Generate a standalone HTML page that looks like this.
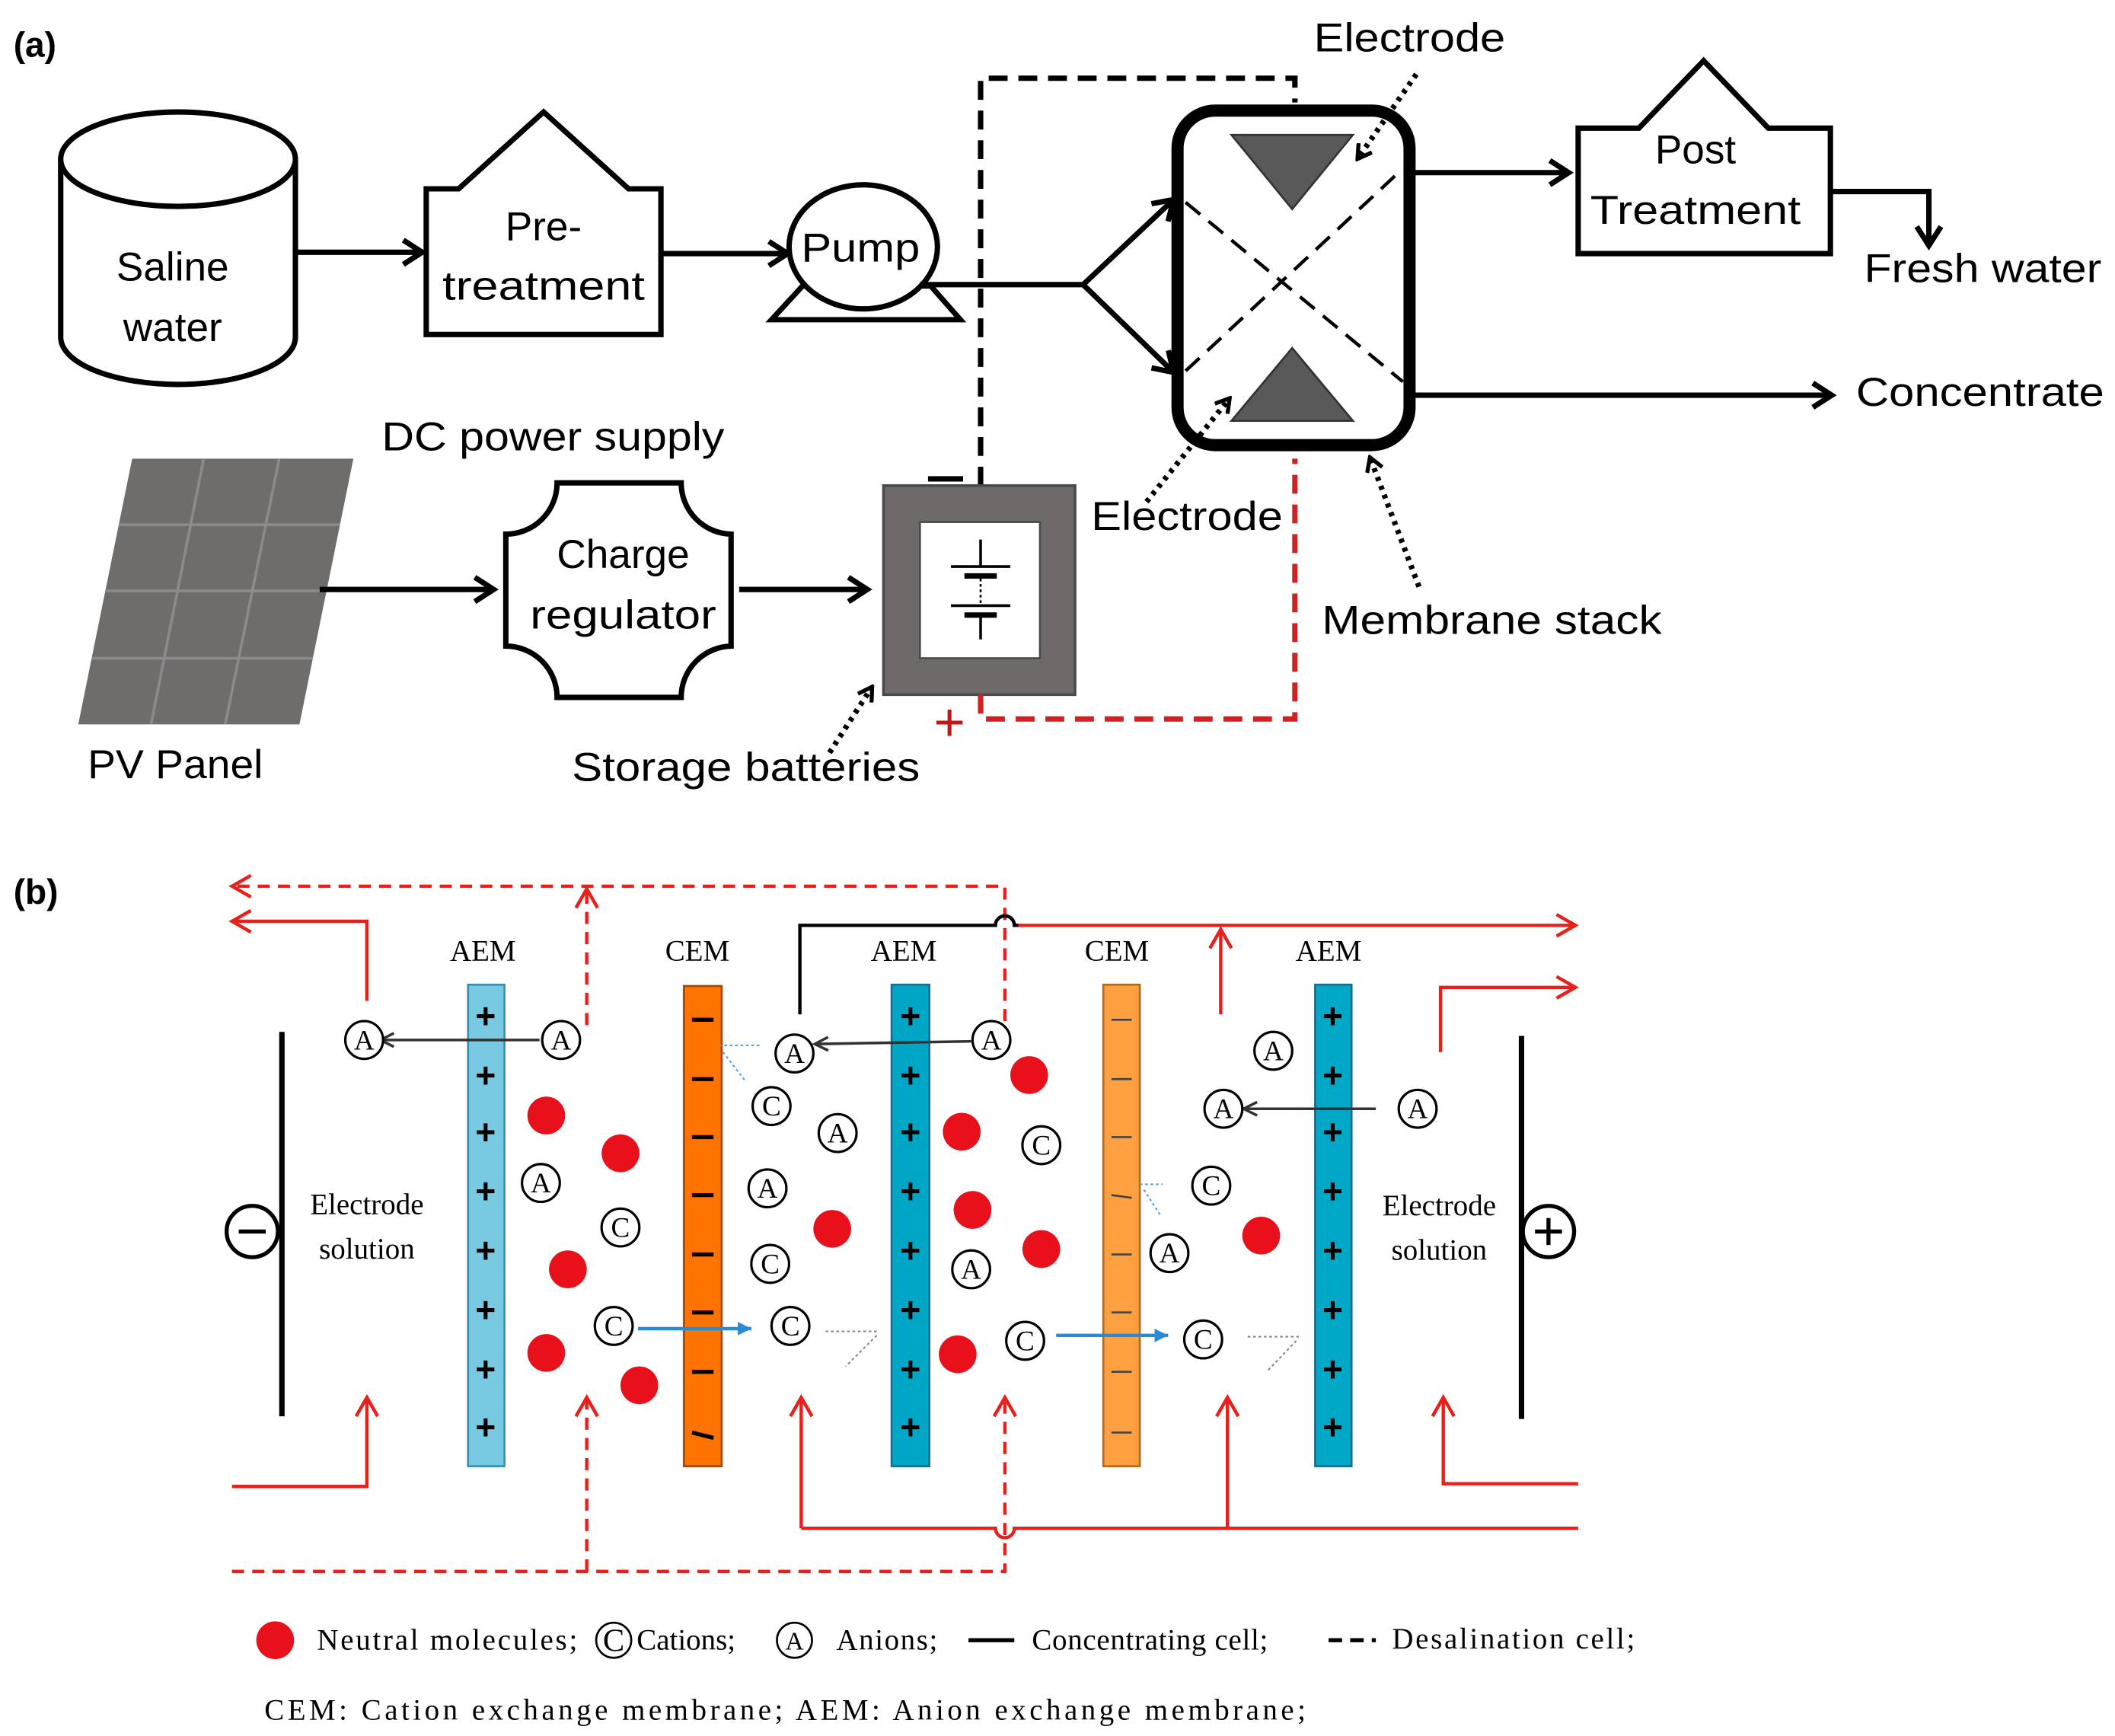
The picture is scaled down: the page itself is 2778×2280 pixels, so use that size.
<!DOCTYPE html>
<html><head><meta charset="utf-8"><style>
html,body{margin:0;padding:0;background:#fff}
svg{display:block}
.t{font-family:"Liberation Sans",sans-serif;font-size:28px;fill:#000}
.r{font-family:"Liberation Serif",serif;fill:#000}
</style></head><body>
<svg width="2778" height="2280" viewBox="0 0 1568 1287" preserveAspectRatio="none" xmlns="http://www.w3.org/2000/svg">
<defs>
<marker id="ak" markerWidth="24" markerHeight="24" refX="20" refY="12" orient="auto" markerUnits="userSpaceOnUse"><path d="M6,3 L20,12 L6,21" fill="none" stroke="#000" stroke-width="4"/></marker>
<marker id="ar" markerWidth="22" markerHeight="22" refX="19" refY="11" orient="auto" markerUnits="userSpaceOnUse"><path d="M5,3 L19,11 L5,19" fill="none" stroke="#e8201c" stroke-width="2.5"/></marker>
<marker id="ag" markerWidth="14" markerHeight="14" refX="12" refY="7" orient="auto" markerUnits="userSpaceOnUse"><path d="M2,2 L12,7 L2,12" fill="none" stroke="#333" stroke-width="2"/></marker>
<marker id="abl" markerWidth="14" markerHeight="14" refX="12" refY="7" orient="auto" markerUnits="userSpaceOnUse"><path d="M2,2 L12,7 L2,12 Z" fill="#2a8ad8"/></marker>
<marker id="ad" markerWidth="14" markerHeight="14" refX="11" refY="7" orient="auto" markerUnits="userSpaceOnUse"><path d="M2,1 L12,7 L2,13" fill="none" stroke="#000" stroke-width="3"/></marker>
</defs>

<!-- (a) -->
<text x="10" y="42" style="font-family:'Liberation Sans',sans-serif;font-weight:bold;font-size:26px">(a)</text>
<path d="M45,118 L45,250 A87,35 0 0 0 219,250 L219,118" fill="#fff" stroke="#000" stroke-width="4"/>
<ellipse cx="132" cy="118" rx="87" ry="35" fill="#fff" stroke="#000" stroke-width="4"/>
<text class="t" x="128" y="208" text-anchor="middle" style="font-size:30px">Saline</text>
<text class="t" x="128" y="253" text-anchor="middle" style="font-size:30px">water</text>
<line x1="219" y1="187" x2="313" y2="187" stroke="#000" stroke-width="4" marker-end="url(#ak)"/>
<path d="M316,248 L316,140 L340,140 L403,83 L466,140 L490,140 L490,248 Z" fill="#fff" stroke="#000" stroke-width="4"/>
<text class="t" x="403" y="178" text-anchor="middle" style="font-size:30px">Pre-</text>
<text class="t" x="403" y="222" text-anchor="middle" style="font-size:30px" textLength="150" lengthAdjust="spacingAndGlyphs">treatment</text>
<line x1="490" y1="188" x2="584" y2="188" stroke="#000" stroke-width="4" marker-end="url(#ak)"/>
<polygon points="572,237 712,237 690,212 595,212" fill="#fff" stroke="#000" stroke-width="4"/>
<ellipse cx="640" cy="183" rx="55" ry="46" fill="#fff" stroke="#000" stroke-width="4"/>
<text class="t" x="638" y="194" text-anchor="middle" style="font-size:30px" textLength="88" lengthAdjust="spacingAndGlyphs">Pump</text>
<polyline points="682,211 803,211" fill="none" stroke="#000" stroke-width="4"/>
<line x1="803" y1="211" x2="870" y2="148" stroke="#000" stroke-width="4" marker-end="url(#ak)"/>
<line x1="803" y1="211" x2="870" y2="276" stroke="#000" stroke-width="4" marker-end="url(#ak)"/>
<polyline points="727,360 727,58 960,58 960,76" fill="none" stroke="#000" stroke-width="4" stroke-dasharray="14,8"/>
<rect x="873" y="82" width="172" height="248" rx="28" fill="#fff" stroke="#000" stroke-width="9"/>
<line x1="879" y1="150" x2="1040" y2="283" stroke="#000" stroke-width="2.5" stroke-dasharray="14,8"/>
<line x1="879" y1="275" x2="1040" y2="125" stroke="#000" stroke-width="2.5" stroke-dasharray="14,8"/>
<polygon points="913,100 1003,100 958,155" fill="#595959" stroke="#333" stroke-width="1.5"/>
<polygon points="913,312 1003,312 958,258" fill="#595959" stroke="#333" stroke-width="1.5"/>
<line x1="1050" y1="55" x2="1007" y2="117" stroke="#000" stroke-width="4" stroke-dasharray="3,4" marker-end="url(#ad)"/>
<text class="t" x="1045" y="38" text-anchor="middle" style="font-size:30px" textLength="142" lengthAdjust="spacingAndGlyphs">Electrode</text>
<line x1="850" y1="372" x2="911" y2="296" stroke="#000" stroke-width="4" stroke-dasharray="3,4" marker-end="url(#ad)"/>
<text class="t" x="880" y="393" text-anchor="middle" style="font-size:30px" textLength="142" lengthAdjust="spacingAndGlyphs">Electrode</text>
<line x1="1052" y1="435" x2="1016" y2="340" stroke="#000" stroke-width="4" stroke-dasharray="3,4" marker-end="url(#ad)"/>
<text class="t" x="980" y="470" style="font-size:30px" textLength="252" lengthAdjust="spacingAndGlyphs">Membrane stack</text>
<line x1="1045" y1="128" x2="1163" y2="128" stroke="#000" stroke-width="4" marker-end="url(#ak)"/>
<path d="M1170,188 L1170,95 L1215,95 L1263,45 L1311,95 L1357,95 L1357,188 Z" fill="#fff" stroke="#000" stroke-width="4"/>
<text class="t" x="1257" y="121" text-anchor="middle" style="font-size:30px">Post</text>
<text class="t" x="1257" y="166" text-anchor="middle" style="font-size:30px" textLength="156" lengthAdjust="spacingAndGlyphs">Treatment</text>
<polyline points="1357,142 1430,142 1430,182" fill="none" stroke="#000" stroke-width="4" marker-end="url(#ak)"/>
<text class="t" x="1470" y="209" text-anchor="middle" style="font-size:30px" textLength="176" lengthAdjust="spacingAndGlyphs">Fresh water</text>
<line x1="1045" y1="293" x2="1358" y2="293" stroke="#000" stroke-width="4" marker-end="url(#ak)"/>
<text class="t" x="1376" y="301" style="font-size:30px" textLength="184" lengthAdjust="spacingAndGlyphs">Concentrate</text>
<text class="t" x="410" y="334" text-anchor="middle" style="font-size:30px" textLength="254" lengthAdjust="spacingAndGlyphs">DC power supply</text>
<polygon points="98,340 262,340 222,537 58,537" fill="#6f6c6c"/>
<g stroke="#8c8a8a" stroke-width="2">
<line x1="151" y1="340" x2="112" y2="537"/><line x1="207" y1="340" x2="167" y2="537"/>
<line x1="88" y1="389" x2="252" y2="389"/><line x1="78" y1="438" x2="242" y2="438"/><line x1="68" y1="488" x2="232" y2="488"/>
</g>
<text class="t" x="130" y="577" text-anchor="middle" style="font-size:30px" textLength="130" lengthAdjust="spacingAndGlyphs">PV Panel</text>
<line x1="237" y1="437" x2="366" y2="437" stroke="#000" stroke-width="4" marker-end="url(#ak)"/>
<path d="M413,358 L505,358 A38,38 0 0 0 542,396 L542,479 A38,38 0 0 0 505,517 L413,517 A38,38 0 0 0 375,479 L375,396 A38,38 0 0 0 413,358 Z" fill="#fff" stroke="#000" stroke-width="4"/>
<text class="t" x="462" y="421" text-anchor="middle" style="font-size:30px">Charge</text>
<text class="t" x="462" y="466" text-anchor="middle" style="font-size:30px" textLength="138" lengthAdjust="spacingAndGlyphs">regulator</text>
<line x1="548" y1="437" x2="643" y2="437" stroke="#000" stroke-width="4" marker-end="url(#ak)"/>
<rect x="655" y="360" width="142" height="155" fill="#6e6a6a" stroke="#4a4a4a" stroke-width="2"/>
<rect x="682" y="387" width="89" height="101" fill="#fff" stroke="#4a4a4a" stroke-width="1.5"/>
<g stroke="#000">
<line x1="727" y1="400" x2="727" y2="420" stroke-width="2"/>
<line x1="705" y1="420" x2="749" y2="420" stroke-width="2"/>
<line x1="715" y1="427" x2="739" y2="427" stroke-width="4"/>
<line x1="727" y1="429" x2="727" y2="447" stroke-width="1.5" stroke-dasharray="2,2"/>
<line x1="705" y1="449" x2="749" y2="449" stroke-width="2"/>
<line x1="715" y1="456" x2="739" y2="456" stroke-width="4"/>
<line x1="727" y1="456" x2="727" y2="474" stroke-width="2"/>
</g>
<line x1="688" y1="355" x2="714" y2="355" stroke="#000" stroke-width="4"/>
<text x="704" y="549" text-anchor="middle" style="font-family:'Liberation Sans',sans-serif;font-size:40px;fill:#c01818">+</text>
<polyline points="727,515 727,533 960,533 960,340" fill="none" stroke="#d42020" stroke-width="4" stroke-dasharray="14,8"/>
<line x1="615" y1="558" x2="646" y2="510" stroke="#000" stroke-width="4" stroke-dasharray="3,4" marker-end="url(#ad)"/>
<text class="t" x="553" y="579" text-anchor="middle" style="font-size:30px" textLength="258" lengthAdjust="spacingAndGlyphs">Storage batteries</text>

<!-- (b) -->
<text x="10" y="670" style="font-family:'Liberation Sans',sans-serif;font-weight:bold;font-size:26px">(b)</text>
<g fill="none" stroke="#e8201c" stroke-width="2.5">
<polyline points="745,757 745,657 172,657" stroke-dasharray="9,6" marker-end="url(#ar)"/>
<line x1="435" y1="760" x2="435" y2="659" stroke-dasharray="9,6" marker-end="url(#ar)"/>
<polyline points="272,742 272,683 172,683" marker-end="url(#ar)"/>
<path d="M755,686 L1168,686" marker-end="url(#ar)"/>
<line x1="905" y1="752" x2="905" y2="689" marker-end="url(#ar)"/>
<polyline points="1068,780 1068,732 1168,732" marker-end="url(#ar)"/>
<polyline points="172,1102 272,1102 272,1036" marker-end="url(#ar)"/>
<polyline points="172,1165 745,1165 745,1036" stroke-dasharray="9,6" marker-end="url(#ar)"/>
<line x1="435" y1="1165" x2="435" y2="1036" stroke-dasharray="9,6" marker-end="url(#ar)"/>
<polyline points="594,1133 594,1036" marker-end="url(#ar)"/>
<path d="M594,1133 L738,1133 A7,7 0 0 0 752,1133 L1170,1133"/>
<line x1="910" y1="1133" x2="910" y2="1036" marker-end="url(#ar)"/>
<polyline points="1170,1100 1070,1100 1070,1036" marker-end="url(#ar)"/>
</g>
<path d="M593,752 L593,686 L738,686 A7,7 0 0 1 752,686 L755,686" fill="none" stroke="#000" stroke-width="2.5"/>
<g class="r" style="font-size:22px" text-anchor="middle">
<text x="358" y="712">AEM</text><text x="517" y="712">CEM</text><text x="670" y="712">AEM</text><text x="828" y="712">CEM</text><text x="985" y="712">AEM</text>
<text x="272" y="900">Electrode</text><text x="272" y="933">solution</text>
<text x="1067" y="901">Electrode</text><text x="1067" y="934">solution</text>
</g>
<rect x="347" y="730" width="27" height="357" fill="#78c9e2" stroke="#3a8fb0" stroke-width="1.5"/>
<rect x="507" y="731" width="28" height="356" fill="#ff7400" stroke="#9a4a10" stroke-width="1.5"/>
<rect x="661" y="730" width="28" height="357" fill="#00a6c6" stroke="#1a6c90" stroke-width="1.5"/>
<rect x="818" y="730" width="27" height="357" fill="#ffa040" stroke="#b06a20" stroke-width="1.5"/>
<rect x="975" y="730" width="27" height="357" fill="#00a8c8" stroke="#1a6c90" stroke-width="1.5"/>
<g style="font-family:'Liberation Sans',sans-serif;font-weight:bold;font-size:26px" text-anchor="middle" fill="#000">
<text x="360" y="762">+</text><text x="360" y="806">+</text><text x="360" y="848">+</text><text x="360" y="892">+</text><text x="360" y="936">+</text><text x="360" y="980">+</text><text x="360" y="1024">+</text><text x="360" y="1067">+</text>
<text x="675" y="762">+</text><text x="675" y="806">+</text><text x="675" y="848">+</text><text x="675" y="892">+</text><text x="675" y="936">+</text><text x="675" y="980">+</text><text x="675" y="1024">+</text><text x="675" y="1067">+</text>
<text x="988" y="762">+</text><text x="988" y="806">+</text><text x="988" y="848">+</text><text x="988" y="892">+</text><text x="988" y="936">+</text><text x="988" y="980">+</text><text x="988" y="1024">+</text><text x="988" y="1067">+</text>
</g>
<g stroke="#000" stroke-width="3">
<line x1="513" y1="756" x2="529" y2="756"/><line x1="513" y1="800" x2="529" y2="800"/><line x1="513" y1="843" x2="529" y2="843"/><line x1="513" y1="886" x2="529" y2="886"/><line x1="513" y1="930" x2="529" y2="930"/><line x1="513" y1="973" x2="529" y2="973"/><line x1="513" y1="1017" x2="529" y2="1017"/><line x1="513" y1="1062" x2="529" y2="1066"/>
</g>
<g stroke="#444" stroke-width="1.5">
<line x1="824" y1="756" x2="839" y2="756"/><line x1="824" y1="800" x2="839" y2="800"/><line x1="824" y1="843" x2="839" y2="843"/><line x1="824" y1="886" x2="839" y2="888"/><line x1="824" y1="930" x2="839" y2="930"/><line x1="824" y1="973" x2="839" y2="973"/><line x1="824" y1="1017" x2="839" y2="1017"/><line x1="824" y1="1062" x2="839" y2="1062"/>
</g>
<line x1="209" y1="765" x2="209" y2="1050" stroke="#000" stroke-width="4"/>
<circle cx="187" cy="913" r="19" fill="#fff" stroke="#000" stroke-width="3"/>
<line x1="177" y1="913" x2="197" y2="913" stroke="#000" stroke-width="3"/>
<line x1="1128" y1="768" x2="1128" y2="1052" stroke="#000" stroke-width="4"/>
<circle cx="1148" cy="913" r="19" fill="#fff" stroke="#000" stroke-width="3"/>
<line x1="1138" y1="913" x2="1158" y2="913" stroke="#000" stroke-width="3"/>
<line x1="1148" y1="903" x2="1148" y2="923" stroke="#000" stroke-width="3"/>
<g fill="#e8101a">
<circle cx="405" cy="827" r="14"/><circle cx="460" cy="855" r="14"/><circle cx="421" cy="941" r="14"/><circle cx="405" cy="1003" r="14"/><circle cx="474" cy="1027" r="14"/><circle cx="617" cy="911" r="14"/><circle cx="763" cy="797" r="14"/><circle cx="713" cy="839" r="14"/><circle cx="721" cy="897" r="14"/><circle cx="772" cy="926" r="14"/><circle cx="710" cy="1004" r="14"/><circle cx="935" cy="916" r="14"/>
</g>
<line x1="400" y1="771" x2="282" y2="771" stroke="#333" stroke-width="2" marker-end="url(#ag)"/>
<line x1="720" y1="772" x2="604" y2="774" stroke="#333" stroke-width="2" marker-end="url(#ag)"/>
<line x1="1020" y1="822" x2="922" y2="822" stroke="#333" stroke-width="2" marker-end="url(#ag)"/>
<line x1="473" y1="985" x2="557" y2="985" stroke="#2a8ad8" stroke-width="2.5" marker-end="url(#abl)"/>
<line x1="783" y1="990" x2="866" y2="990" stroke="#2a8ad8" stroke-width="2.5" marker-end="url(#abl)"/>
<g stroke="#5aa0e0" stroke-width="1.2" stroke-dasharray="2,2" fill="none">
<line x1="533" y1="775" x2="565" y2="775"/><line x1="536" y1="780" x2="553" y2="802"/>
<line x1="845" y1="878" x2="862" y2="878"/><line x1="848" y1="882" x2="861" y2="902"/>
</g>
<g stroke="#888" stroke-width="1.2" stroke-dasharray="2,2" fill="none">
<line x1="612" y1="987" x2="652" y2="987"/><line x1="650" y1="990" x2="627" y2="1013"/>
<line x1="925" y1="991" x2="963" y2="991"/><line x1="961" y1="994" x2="939" y2="1017"/>
</g>
<g class="r" style="font-size:21px" text-anchor="middle" stroke-width="1.8">
<g fill="#fff" stroke="#000">
<circle cx="270" cy="771" r="14"/><circle cx="416" cy="771" r="14"/><circle cx="401" cy="877" r="14"/><circle cx="589" cy="781" r="14"/><circle cx="621" cy="840" r="14"/><circle cx="569" cy="881" r="14"/><circle cx="735" cy="771" r="14"/><circle cx="720" cy="941" r="14"/><circle cx="944" cy="779" r="14"/><circle cx="907" cy="822" r="14"/><circle cx="1051" cy="822" r="14"/><circle cx="867" cy="929" r="14"/>
<circle cx="460" cy="910" r="14"/><circle cx="455" cy="983" r="14"/><circle cx="572" cy="820" r="14"/><circle cx="571" cy="937" r="14"/><circle cx="586" cy="983" r="14"/><circle cx="772" cy="849" r="14"/><circle cx="760" cy="994" r="14"/><circle cx="898" cy="879" r="14"/><circle cx="892" cy="993" r="14"/>
</g>
<text x="270" y="778">A</text><text x="416" y="778">A</text><text x="401" y="884">A</text><text x="589" y="788">A</text><text x="621" y="847">A</text><text x="569" y="888">A</text><text x="735" y="778">A</text><text x="720" y="948">A</text><text x="944" y="786">A</text><text x="907" y="829">A</text><text x="1051" y="829">A</text><text x="867" y="936">A</text>
<text x="460" y="917">C</text><text x="455" y="990">C</text><text x="572" y="827">C</text><text x="571" y="944">C</text><text x="586" y="990">C</text><text x="772" y="856">C</text><text x="760" y="1001">C</text><text x="898" y="886">C</text><text x="892" y="1000">C</text>
</g>
<!-- legend -->
<circle cx="204" cy="1216" r="14" fill="#e8101a"/>
<g class="r" style="font-size:22px">
<text x="235" y="1223" textLength="193" lengthAdjust="spacing">Neutral molecules;</text>
<circle cx="455" cy="1216" r="13" fill="#fff" stroke="#000" stroke-width="1.5"/>
<text x="455" y="1224" text-anchor="middle" style="font-size:24px">C</text>
<text x="472" y="1223">Cations;</text>
<circle cx="589" cy="1216" r="13" fill="#fff" stroke="#000" stroke-width="1.5"/>
<text x="589" y="1223" text-anchor="middle" style="font-size:19px">A</text>
<text x="620" y="1223" textLength="75" lengthAdjust="spacing">Anions;</text>
<text x="765" y="1223" textLength="175" lengthAdjust="spacing">Concentrating cell;</text>
<text x="1032" y="1222" textLength="180" lengthAdjust="spacing">Desalination cell;</text>
<text x="196" y="1275" textLength="772" lengthAdjust="spacing">CEM: Cation exchange membrane;   AEM: Anion exchange membrane;</text>
</g>
<line x1="718" y1="1216" x2="752" y2="1216" stroke="#000" stroke-width="3"/>
<line x1="985" y1="1216" x2="1020" y2="1216" stroke="#000" stroke-width="3" stroke-dasharray="10,6"/>
</svg>
</body></html>
